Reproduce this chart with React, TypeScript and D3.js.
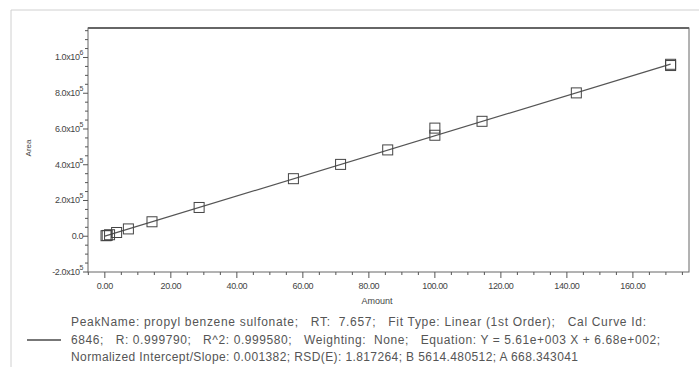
import React, { useEffect, useRef } from "react";
import * as d3 from "d3";

// calibration standards: amount vs peak area
const amounts = [0.36, 0.71, 1.43, 3.57, 7.14, 14.29, 28.57, 57.14, 71.43, 85.71, 100, 100, 114.29, 142.86, 171.43, 171.43];
const areas = [3000, 4500, 8500, 21000, 41000, 81000, 161000, 322000, 402000, 483000, 565000, 605000, 643000, 802000, 962000, 955000];

const xTicks = [0, 20, 40, 60, 80, 100, 120, 140, 160];
const yTicks = [-200000, 0, 200000, 400000, 600000, 800000, 1000000];

const slope = 5614.480512;
const intercept = 668.343041;

const footer = [
  "PeakName: propyl benzene sulfonate;   RT:  7.657;   Fit Type: Linear (1st Order);   Cal Curve Id:",
  "6846;   R: 0.999790;   R^2: 0.999580;   Weighting:  None;   Equation: Y = 5.61e+003 X + 6.68e+002;",
  "Normalized Intercept/Slope: 0.001382; RSD(E): 1.817264; B 5614.480512; A 668.343041",
];
const footerEnds = [646, 660, 578];

const App: React.FC = () => {
  const svgRef = useRef<SVGSVGElement | null>(null);

  useEffect(() => {
    const svg = d3.select(svgRef.current);
    svg.selectAll("*").remove();

    const w = 699;
    const h = 367;
    const m = { top: 28, right: 10, bottom: 95, left: 88 };
    const tickFont = "'Liberation Sans Narrow', 'Liberation Sans', Arial, sans-serif";

    svg.attr("width", w).attr("height", h).style("background-color", "#ffffff");

    // outer panel frame
    svg.append("path")
      .attr("d", `M11,${h} L11,10 L${w},10`)
      .attr("fill", "none")
      .attr("stroke", "#d0d0d0");

    const x = d3.scaleLinear().domain([-5.1, 177]).range([m.left, w - m.right]);
    const y = d3.scaleLinear().domain([-200000, 1165000]).range([h - m.bottom, m.top]);

    // plot frame
    svg.append("rect")
      .attr("x", m.left)
      .attr("y", m.top)
      .attr("width", w - m.right - m.left)
      .attr("height", h - m.bottom - m.top)
      .attr("fill", "none")
      .attr("stroke", "#666");
    svg.append("line")
      .attr("x1", m.left).attr("x2", w - m.right)
      .attr("y1", m.top).attr("y2", m.top)
      .attr("stroke", "#666").attr("stroke-width", 2);

    // x axis
    const xMinor = d3.range(-5, 177, 5);
    svg.append("g")
      .selectAll("line")
      .data(xMinor)
      .enter()
      .append("line")
      .attr("x1", d => x(d)).attr("x2", d => x(d))
      .attr("y1", h - m.bottom)
      .attr("y2", d => h - m.bottom + (d % 20 === 0 ? 6 : 3))
      .attr("stroke", "#555");

    svg.append("g")
      .selectAll("text")
      .data(xTicks)
      .enter()
      .append("text")
      .attr("x", d => x(d))
      .attr("y", h - m.bottom + 17)
      .attr("text-anchor", "middle")
      .style("font-family", tickFont)
      .style("font-size", "9px")
      .style("letter-spacing", "-0.4px")
      .attr("fill", "#444")
      .text(d => d.toFixed(2));

    svg.append("text")
      .attr("x", 377)
      .attr("y", 304)
      .attr("text-anchor", "middle")
      .style("font-family", tickFont)
      .style("font-size", "9px")
      .attr("fill", "#444")
      .text("Amount");

    // y axis
    const yMinor = d3.range(-200000, 1165000, 50000);
    svg.append("g")
      .selectAll("line")
      .data(yMinor)
      .enter()
      .append("line")
      .attr("x1", m.left)
      .attr("x2", d => m.left - (d % 200000 === 0 ? 5 : 3))
      .attr("y1", d => y(d)).attr("y2", d => y(d))
      .attr("stroke", "#555");

    const yLab = svg.append("g")
      .selectAll("text")
      .data(yTicks)
      .enter()
      .append("text")
      .attr("x", m.left - 5)
      .attr("y", d => y(d) + 3)
      .attr("text-anchor", "end")
      .style("font-family", tickFont)
      .style("font-size", "9px")
      .style("letter-spacing", "-0.4px")
      .attr("fill", "#444");
    yLab.each(function (d) {
      const t = d3.select(this);
      if (d === 0) {
        t.text("0.0");
        return;
      }
      const e = Math.floor(Math.log10(Math.abs(d)));
      const mant = d / Math.pow(10, e);
      t.append("tspan").text(`${mant.toFixed(1)}x10`);
      t.append("tspan")
        .attr("dy", -5)
        .style("font-size", "7px")
        .text(String(e));
    });

    svg.append("text")
      .attr("transform", "translate(31,148) rotate(-90)")
      .attr("text-anchor", "middle")
      .style("font-family", tickFont)
      .style("font-size", "8px")
      .attr("fill", "#444")
      .text("Area");

    // fit line
    const clip = svg.append("clipPath").attr("id", "plotclip");
    clip.append("rect")
      .attr("x", m.left).attr("y", m.top)
      .attr("width", w - m.right - m.left).attr("height", h - m.bottom - m.top);

    const fitX = [0, d3.max(amounts) as number];
    svg.append("path")
      .attr("clip-path", "url(#plotclip)")
      .attr("d", d3.line<number>().x(d => x(d)).y(d => y(slope * d + intercept))(fitX))
      .attr("fill", "none")
      .attr("stroke", "#555")
      .attr("stroke-width", 1.2);

    // points
    const s = 10;
    svg.append("g")
      .selectAll("rect")
      .data(amounts.map((a, i) => ({ a, v: areas[i] })))
      .enter()
      .append("rect")
      .attr("x", d => x(d.a) - s / 2)
      .attr("y", d => y(d.v) - s / 2)
      .attr("width", s)
      .attr("height", s)
      .attr("fill", "none")
      .attr("stroke", "#444")
      .attr("stroke-width", 1);

    // legend + footer
    svg.append("line")
      .attr("x1", 27).attr("x2", 61)
      .attr("y1", 340).attr("y2", 340)
      .attr("stroke", "#777").attr("stroke-width", 2);

    const textX = 71;
    svg.append("g")
      .selectAll("text")
      .data(footer)
      .enter()
      .append("text")
      .attr("x", textX)
      .attr("y", (d, i) => 326 + i * 17.5)
      .attr("xml:space", "preserve")
      .attr("textLength", (d, i) => footerEnds[i] - textX)
      .attr("lengthAdjust", "spacing")
      .style("white-space", "pre")
      .style("font-family", "'Liberation Sans', Arial, sans-serif")
      .style("font-size", "12px")
      .attr("fill", "#555")
      .text(d => d);
  }, []);

  return (
    <div style={{ position: "absolute", left: 0, top: 0, width: 699, height: 367 }}>
      <svg ref={svgRef}></svg>
    </div>
  );
};

export default App;
